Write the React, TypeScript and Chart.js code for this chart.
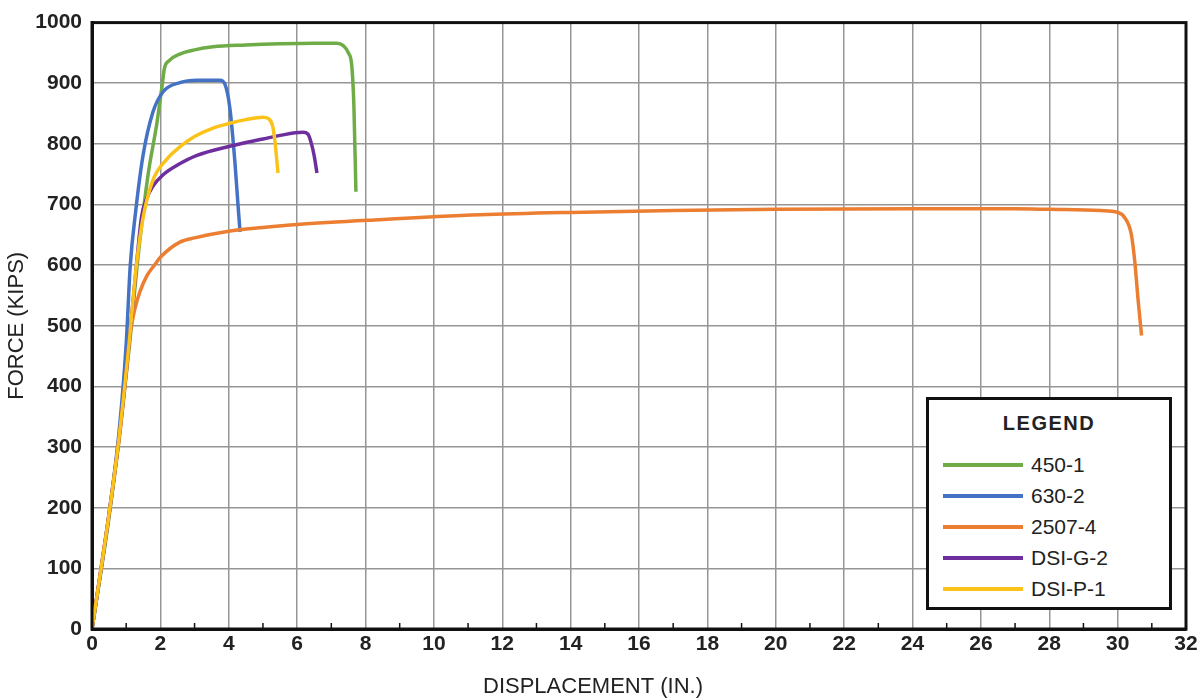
import React, { useEffect, useRef } from "react";
import { Chart, registerables } from "chart.js";

Chart.register(...registerables);

const seriesLabels = ["450-1", "630-2", "2507-4", "DSI-G-2", "DSI-P-1"];
const seriesColors = ["#6fac47", "#4472c4", "#ec7e32", "#6e2e9e", "#fbc21a"];

const x450 = [0, 0.5, 0.8, 1.1, 1.34, 1.64, 1.9, 2.05, 2.12, 2.25, 2.57, 3.0, 3.54, 4.5, 5.5, 6.5, 7.16, 7.35, 7.5, 7.6, 7.66, 7.72];
const y450 = [0, 185, 320, 470, 610, 749, 835, 896, 925, 937, 948, 955, 960, 963, 965, 966, 966, 962, 950, 928, 863, 721];

const x630 = [0, 0.5, 0.8, 1.0, 1.12, 1.28, 1.49, 1.78, 2.08, 2.57, 3.07, 3.74, 3.89, 4.03, 4.18, 4.27, 4.33];
const y630 = [0, 190, 330, 470, 600, 690, 780, 852, 886, 901, 905, 905, 898, 860, 770, 700, 655];

const x2507 = [0, 0.5, 0.8, 1.0, 1.12, 1.25, 1.4, 1.6, 1.84, 2.0, 2.57, 3, 4, 5, 6, 8.4, 11.35, 14, 17, 20, 24, 27, 28, 29.5, 30, 30.2, 30.4, 30.5, 30.6, 30.7];
const y2507 = [0, 190, 315, 420, 488, 527, 556, 582, 601, 613, 638, 645, 656, 662, 667, 675, 683, 687, 690, 692, 693, 693, 692, 690, 687, 679, 651, 607, 542, 484];

const xDsiG = [0, 0.5, 0.8, 1.1, 1.3, 1.45, 1.6, 1.78, 2.08, 2.5, 3.07, 4.03, 5.0, 5.5, 6.17, 6.32, 6.42, 6.5, 6.58];
const yDsiG = [0, 190, 320, 480, 600, 680, 710, 730, 749, 765, 781, 796, 808, 814, 819, 816, 800, 780, 752];

const xDsiP = [0, 0.5, 0.8, 1.1, 1.3, 1.5, 1.78, 2.19, 2.57, 3.0, 3.54, 4.03, 4.5, 5.0, 5.15, 5.28, 5.35, 5.44];
const yDsiP = [0, 190, 320, 480, 600, 680, 740, 775, 795, 812, 826, 834, 840, 844, 842, 830, 805, 752];

const seriesX = [x450, x630, x2507, xDsiG, xDsiP];
const seriesY = [y450, y630, y2507, yDsiG, yDsiP];

const minorTicks = [1, 3, 5, 7, 9, 11, 13, 15, 17, 19, 21, 23, 25, 27, 29, 31];

const FONT = "'Liberation Sans', Arial, sans-serif";

const framePlugin = {
  id: "plotFrame",
  afterDatasetsDraw(chart: any) {
    const { ctx, chartArea: a, scales } = chart;
    ctx.save();
    ctx.strokeStyle = "#111";
    ctx.lineWidth = 1.5;
    for (const v of minorTicks) {
      const px = scales.x.getPixelForValue(v);
      ctx.beginPath();
      ctx.moveTo(px, a.bottom);
      ctx.lineTo(px, a.bottom - 6);
      ctx.stroke();
    }
    ctx.lineWidth = 3;
    ctx.strokeRect(a.left, a.top, a.right - a.left, a.bottom - a.top);
    ctx.restore();
  },
};

export default function App() {
  const canvasRef = useRef<HTMLCanvasElement | null>(null);

  useEffect(() => {
    if (!canvasRef.current) return;
    const datasets = seriesLabels.map((label, i) => ({
      label,
      data: seriesX[i].map((x, j) => ({ x, y: seriesY[i][j] })),
      borderColor: seriesColors[i],
      backgroundColor: seriesColors[i],
      borderWidth: 3.5,
      pointRadius: 0,
      fill: false,
      cubicInterpolationMode: "monotone" as const,
      order: seriesLabels.length - 1 - i,
    }));
    const chart = new Chart(canvasRef.current, {
      type: "line",
      data: { datasets },
      options: {
        animation: false,
        responsive: true,
        maintainAspectRatio: false,
        layout: { padding: { top: 16, right: 18, left: 0, bottom: 0 } },
        plugins: {
          legend: { display: false },
          tooltip: { enabled: false },
          title: {
            display: true,
            position: "bottom",
            text: "DISPLACEMENT (IN.)",
            color: "#222",
            font: { family: FONT, size: 22, weight: "normal" },
            padding: { top: 0, bottom: 0 },
          },
        },
        scales: {
          x: {
            type: "linear",
            min: 0,
            max: 32,
            ticks: {
              stepSize: 2,
              padding: 3,
              color: "#222",
              font: { family: FONT, size: 21, weight: "bold" },
              maxRotation: 0,
            },
            grid: { color: "#969696", lineWidth: 1.5, drawTicks: false },
            border: { display: true, color: "#111", width: 3 },
            afterFit: (s: any) => {
              s.height = 71 - 26.4;
            },
          },
          y: {
            type: "linear",
            min: 0,
            max: 1000,
            ticks: {
              stepSize: 100,
              padding: 10,
              color: "#222",
              font: { family: FONT, size: 21, weight: "bold" },
              callback: (v: any) => String(v),
            },
            grid: { color: "#969696", lineWidth: 1.5, drawTicks: false },
            border: { display: true, color: "#111", width: 3 },
            title: {
              display: true,
              text: "FORCE (KIPS)",
              color: "#222",
              font: { family: FONT, size: 22 },
              padding: { top: 4, bottom: 0 },
            },
            afterFit: (s: any) => {
              s.width = 92;
            },
          },
        },
      },
      plugins: [framePlugin],
    });
    return () => chart.destroy();
  }, []);

  return (
    <div style={{ position: "fixed", left: 0, top: 0, width: 1204, height: 700, background: "#fff" }}>
      <canvas ref={canvasRef} />
      <div
        style={{
          position: "absolute",
          left: 926,
          top: 397,
          width: 246,
          height: 213,
          boxSizing: "border-box",
          border: "3px solid #111",
          background: "#fff",
          fontFamily: FONT,
          color: "#222",
        }}
      >
        <div
          style={{
            position: "absolute",
            left: 0,
            right: 0,
            top: 12,
            textAlign: "center",
            fontWeight: "bold",
            fontSize: 20,
            letterSpacing: 1.5,
          }}
        >
          LEGEND
        </div>
        {seriesLabels.map((label, i) => (
          <div
            key={label}
            style={{
              position: "absolute",
              left: 14,
              top: 53 + i * 31,
              height: 24,
              display: "flex",
              alignItems: "center",
            }}
          >
            <div style={{ width: 80, height: 4, background: seriesColors[i] }} />
            <span style={{ marginLeft: 8, fontSize: 21 }}>{label}</span>
          </div>
        ))}
      </div>
    </div>
  );
}
